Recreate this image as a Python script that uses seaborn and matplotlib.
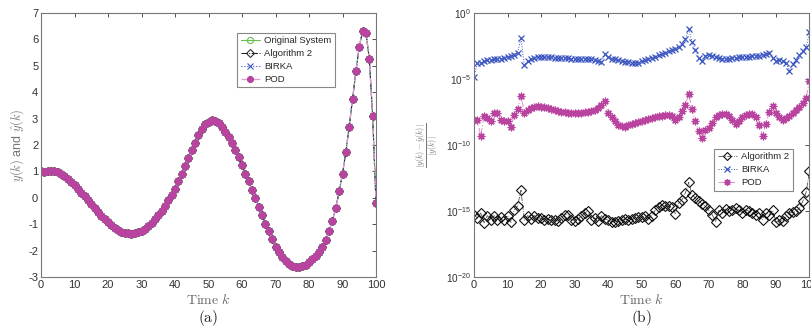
import numpy as np
import pandas as pd
import matplotlib
matplotlib.use("Agg")
import matplotlib.pyplot as plt
import seaborn as sns

# ---------------- data ----------------
k = list(range(101))

y_output = [1.0, 0.96, 1.0, 1.02, 1.0, 0.96, 0.9, 0.82, 0.72, 0.61,
            0.48, 0.34, 0.2, 0.05, -0.1, -0.25, -0.4, -0.54, -0.68, -0.81,
            -0.93, -1.04, -1.14, -1.22, -1.28, -1.32, -1.35, -1.36, -1.35, -1.31,
            -1.26, -1.18, -1.08, -0.96, -0.82, -0.66, -0.49, -0.3, -0.1, 0.11,
            0.35, 0.62, 0.91, 1.21, 1.5, 1.8, 2.09, 2.36, 2.59, 2.78,
            2.89, 2.93, 2.91, 2.84, 2.7, 2.51, 2.3, 2.07, 1.82, 1.54,
            1.24, 0.92, 0.62, 0.3, -0.01, -0.33, -0.65, -0.98, -1.27, -1.56,
            -1.85, -2.06, -2.25, -2.4, -2.51, -2.58, -2.63, -2.64, -2.6, -2.54,
            -2.45, -2.33, -2.2, -2.05, -1.86, -1.6, -1.26, -0.86, -0.39, 0.24,
            0.91, 1.73, 2.7, 3.74, 4.79, 5.73, 6.3, 6.26, 5.25, 3.11,
            -0.2]

# relative errors, stored as log10 exponents
alg2_log10 = [-15.28, -15.53, -15.15, -15.9, -15.35, -15.66, -15.35, -15.66, -15.45, -15.66,
              -15.35, -15.86, -14.95, -14.6, -13.43, -15.7, -15.35, -15.6, -15.35, -15.53,
              -15.53, -15.66, -15.6, -15.7, -15.7, -15.75, -15.53, -15.28, -15.28, -15.66,
              -15.75, -15.6, -15.4, -15.15, -15.0, -15.66, -15.53, -15.75, -15.35, -15.6,
              -15.7, -15.85, -15.8, -15.75, -15.66, -15.6, -15.7, -15.62, -15.55, -15.45,
              -15.45, -15.35, -15.6, -15.35, -14.95, -14.7, -14.52, -14.6, -14.65, -14.7,
              -15.2, -14.4, -14.14, -13.64, -12.83, -13.77, -14.02, -14.27, -14.45, -14.65,
              -14.95, -15.28, -15.8, -14.95, -15.15, -14.85, -15.03, -14.9, -14.78, -14.95,
              -15.15, -14.9, -15.03, -15.15, -15.3, -15.15, -15.66, -15.15, -15.28, -14.95,
              -15.86, -15.66, -15.78, -15.4, -15.15, -15.1, -15.03, -14.78, -14.27, -13.58,
              -11.99]

birka_log10 = [-4.85, -3.79, -3.8, -3.62, -3.58, -3.55, -3.52, -3.48, -3.45, -3.4,
               -3.35, -3.25, -3.15, -3.0, -1.9, -3.96, -3.66, -3.5, -3.42, -3.36,
               -3.35, -3.36, -3.36, -3.37, -3.38, -3.4, -3.42, -3.43, -3.44, -3.45,
               -3.46, -3.47, -3.48, -3.48, -3.48, -3.5, -3.55, -3.6, -3.74, -3.1,
               -3.36, -3.45, -3.52, -3.58, -3.63, -3.68, -3.72, -3.76, -3.8, -3.75,
               -3.67, -3.58, -3.5, -3.4, -3.3, -3.2, -3.1, -3.0, -2.9, -2.8,
               -2.7, -2.55, -2.35, -1.97, -1.21, -2.22, -2.78, -3.41, -3.66, -3.23,
               -3.2, -3.25, -3.3, -3.38, -3.45, -3.48, -3.45, -3.42, -3.38, -3.35,
               -3.33, -3.32, -3.3, -3.28, -3.25, -3.22, -3.18, -3.12, -3.03, -3.4,
               -3.6, -3.55, -3.6, -3.79, -4.37, -3.9, -3.54, -3.15, -2.9, -2.6,
               -1.44]

pod_log10 = [-8.13, -8.13, -9.34, -7.78, -7.95, -8.2, -7.58, -7.6, -8.08, -8.2,
             -8.15, -8.64, -7.7, -7.27, -6.26, -7.58, -7.32, -7.2, -7.1, -7.08,
             -7.1, -7.15, -7.2, -7.28, -7.35, -7.42, -7.48, -7.52, -7.55, -7.56,
             -7.56, -7.55, -7.54, -7.52, -7.48, -7.42, -7.33, -7.2, -7.0, -6.64,
             -7.58, -7.88, -8.2, -8.46, -8.59, -8.6, -8.5, -8.4, -8.33, -8.26,
             -8.18, -8.1, -8.02, -7.95, -7.88, -7.82, -7.77, -7.74, -7.74, -7.8,
             -8.13, -7.9, -7.45, -6.94, -6.14, -7.27, -8.2, -8.96, -9.47, -8.89,
             -8.71, -8.3, -7.9, -7.7, -7.62, -7.65, -7.8, -8.1, -8.38, -8.2,
             -7.9, -7.72, -7.62, -7.65, -7.85, -8.46, -9.29, -8.4, -7.53, -7.02,
             -7.58, -7.85, -8.08, -7.95, -7.82, -7.6, -7.35, -7.1, -6.85, -6.44,
             -5.13]

labels_a = ["Original System", "Algorithm 2", "BIRKA", "POD"]
labels_b = ["Algorithm 2", "BIRKA", "POD"]

# ---------------- style ----------------
sns.set_theme(style="white")
plt.rcParams["font.family"] = ["Liberation Sans", "DejaVu Sans"]
plt.rcParams["mathtext.fontset"] = "cm"
plt.rcParams["axes.unicode_minus"] = False

C_GREEN = "#66c050"
C_BLACK = "#111111"
C_BLUE = "#3a55c0"
C_MAG = "#b8449f"
C_PINK = "#e29ad2"
TICK_C = "#333333"
STAR = (8, 2, 0)

fig = plt.figure(figsize=(8.12, 3.29), dpi=100)
axA = fig.add_axes([41 / 812, 1 - 277 / 329, 335 / 812, 264 / 329])
axB = fig.add_axes([474 / 812, 1 - 277 / 329, 335.5 / 812, 264 / 329])

dfA = pd.DataFrame({"k": k, "y": y_output})

# ----- panel (a) -----
sns.lineplot(data=dfA, x="k", y="y", ax=axA, color=C_GREEN, lw=0.8, linestyle="-",
             marker="o", markersize=5.2, markerfacecolor="none", markeredgecolor=C_GREEN,
             markeredgewidth=0.8, label=labels_a[0])
sns.lineplot(data=dfA, x="k", y="y", ax=axA, color=C_BLACK, lw=0.7, linestyle="-.",
             marker="D", markersize=4.5, markerfacecolor="none", markeredgecolor="#333333",
             markeredgewidth=0.8, label=labels_a[1])
sns.lineplot(data=dfA, x="k", y="y", ax=axA, color=C_BLUE, lw=0.8, linestyle=":",
             marker="x", markersize=4.8, markeredgecolor=C_BLUE, markeredgewidth=0.8,
             label=labels_a[2])
sns.lineplot(data=dfA, x="k", y="y", ax=axA, color=C_PINK, lw=0.9, linestyle=(0, (5, 2, 1, 2)),
             marker=STAR, markersize=5.5, markeredgecolor=C_MAG, markerfacecolor=C_MAG,
             markeredgewidth=1.5, label=labels_a[3])

axA.set_xlim(0, 100)
axA.set_ylim(-3, 7)
axA.set_xticks(range(0, 101, 10))
axA.set_yticks(range(-3, 8))
axA.set_xlabel(r"$\mathrm{Time}\ k$", fontsize=10, color="#666666", labelpad=2.5)
axA.set_ylabel(r"$y(k)$ and $\hat{y}(k)$", fontsize=9, color="#777777")
axA.yaxis.set_label_coords(-0.045, 0.5)
axA.text(0.5, -0.155, r"$\mathrm{(a)}$", transform=axA.transAxes, ha="center", va="center",
         fontsize=11, color="#222222")
legA = axA.legend(loc="upper right", bbox_to_anchor=(0.877, 0.925), fontsize=6.8,
                  frameon=True, fancybox=False, framealpha=1, edgecolor="#888888",
                  handlelength=2.0, handletextpad=0.5, borderpad=0.35, labelspacing=0.42,
                  borderaxespad=0, markerscale=0.85)
legA.get_frame().set_linewidth(0.8)

# ----- panel (b) -----
dfB = pd.DataFrame({
    "k": k,
    "alg2": np.power(10.0, alg2_log10),
    "birka": np.power(10.0, birka_log10),
    "pod": np.power(10.0, pod_log10),
})
sns.lineplot(data=dfB, x="k", y="alg2", ax=axB, color="#555555", lw=0.6, linestyle="-.",
             marker="D", markersize=4.6, markerfacecolor="none", markeredgecolor=C_BLACK,
             markeredgewidth=0.8, label=labels_b[0])
sns.lineplot(data=dfB, x="k", y="birka", ax=axB, color=C_BLUE, lw=0.7, linestyle=":",
             marker="x", markersize=4.8, markeredgecolor=C_BLUE, markeredgewidth=0.9,
             label=labels_b[1])
sns.lineplot(data=dfB, x="k", y="pod", ax=axB, color=C_PINK, lw=0.8, linestyle=(0, (5, 2, 1, 2)),
             marker=STAR, markersize=5.5, markeredgecolor=C_MAG, markerfacecolor=C_MAG,
             markeredgewidth=0.9, label=labels_b[2])

axB.set_yscale("log")
axB.set_xlim(0, 100)
axB.set_ylim(1e-20, 1)
axB.set_xticks(range(0, 101, 10))
axB.set_yticks([1e-20, 1e-15, 1e-10, 1e-5, 1])
axB.yaxis.set_minor_locator(matplotlib.ticker.NullLocator())
axB.set_xlabel(r"$\mathrm{Time}\ k$", fontsize=10, color="#666666", labelpad=2.5)
axB.set_ylabel(r"$\frac{|y(k)-\hat{y}(k)|}{|y(k)|}$", fontsize=8.5, color="#777777")
axB.yaxis.set_label_coords(-0.10, 0.5)
axB.text(0.5, -0.155, r"$\mathrm{(b)}$", transform=axB.transAxes, ha="center", va="center",
         fontsize=11, color="#222222")
legB = axB.legend(loc="upper right", bbox_to_anchor=(0.950, 0.485), fontsize=6.8,
                  frameon=True, fancybox=False, framealpha=1, edgecolor="#888888",
                  handlelength=2.0, handletextpad=0.5, borderpad=0.35, labelspacing=0.42,
                  borderaxespad=0, markerscale=0.9)
legB.get_frame().set_linewidth(0.8)

for ax in (axA, axB):
    ax.tick_params(axis="both", which="both", direction="in", length=3, width=0.6,
                   colors=TICK_C, labelsize=8, top=True, right=True, pad=2)
    for side in ax.spines.values():
        side.set_visible(True)
        side.set_color("#777777")
        side.set_linewidth(0.8)
    ax.grid(False)
axB.tick_params(axis="y", labelsize=7.2)

fig.savefig("out.png", dpi=100)
